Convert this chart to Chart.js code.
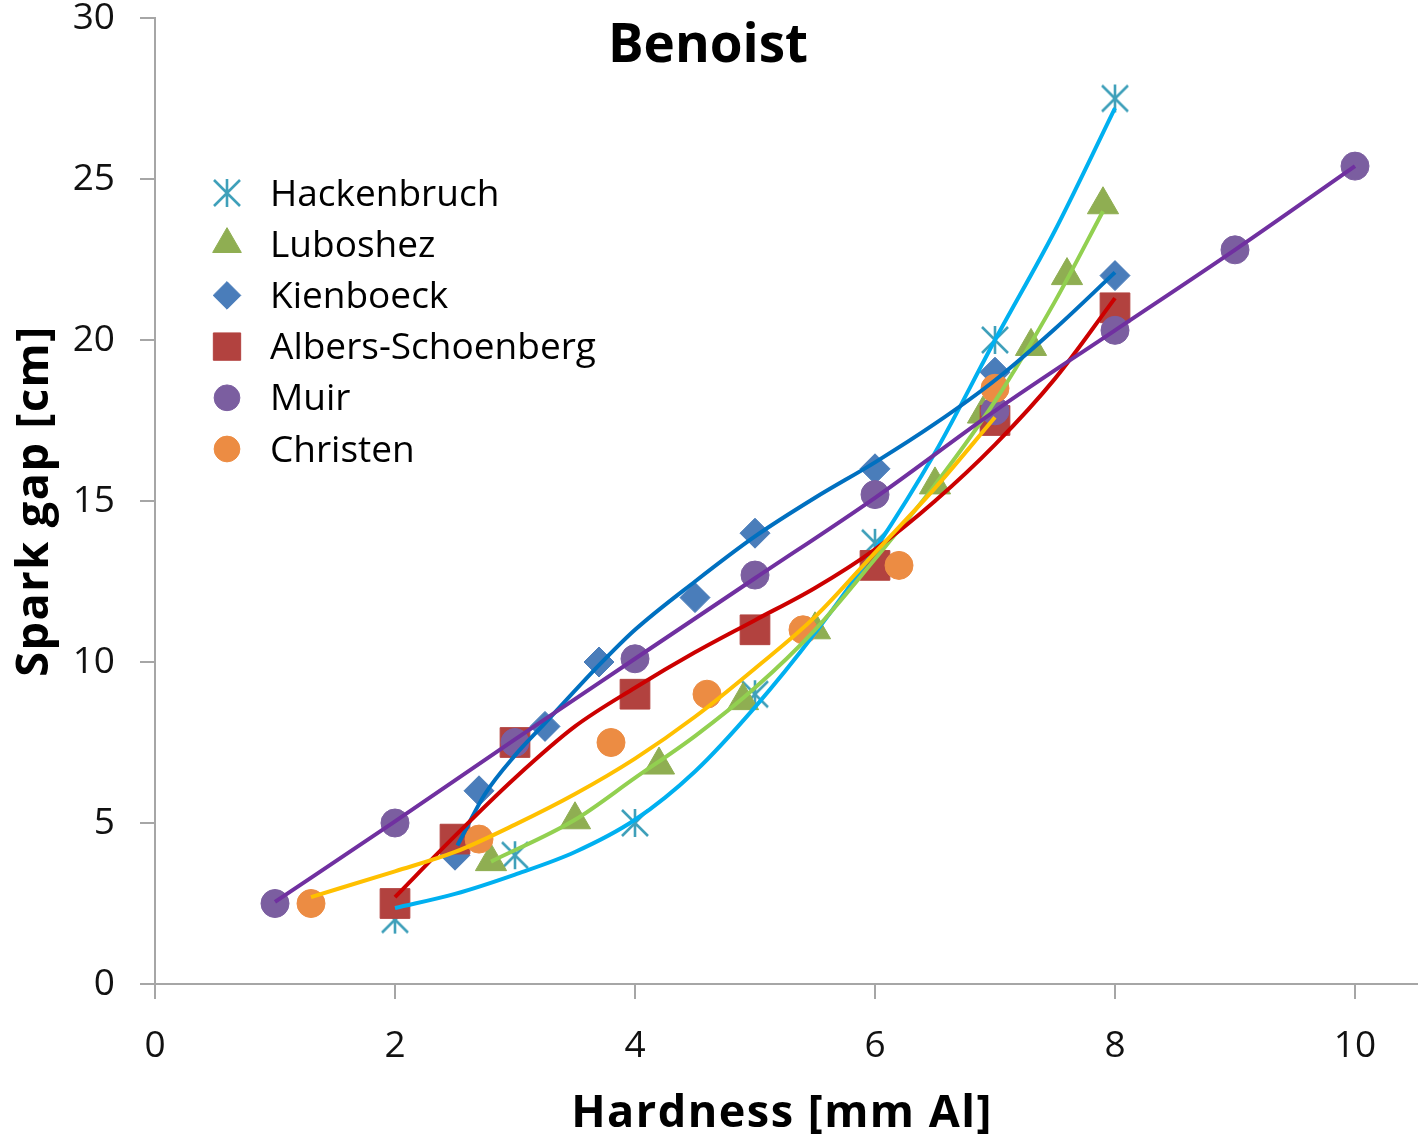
<!DOCTYPE html>
<html lang="en">
<head>
  <meta charset="UTF-8">
  <title>Benoist</title>
  <script src="https://cdn.jsdelivr.net/npm/chart.js"></script>
  <style>
    body { margin: 0; background: #fff; }
    #wrap { width: 1418px; height: 1148px; }
  </style>
</head>
<body>
  <div id="wrap"><canvas id="chart" width="1418" height="1148"></canvas></div>

  <script>
    // axis ticks
    const xTicks = [0, 2, 4, 6, 8, 10];
    const yTicks = [0, 5, 10, 15, 20, 25, 30];

    // measured points
    const hackX = [2, 3, 4, 5, 6, 7, 8];
    const hackY = [2, 4, 5, 9, 13.7, 20, 27.5];
    const lubX = [2.8, 3.5, 4.2, 4.9, 5.5, 6.5, 6.9, 7.3, 7.6, 7.9];
    const lubY = [3.8, 5.1, 6.8, 8.8, 11, 15.5, 17.7, 19.8, 22, 24.2];
    const kienX = [2.5, 2.7, 3.25, 3.7, 4.5, 5, 6, 7, 8];
    const kienY = [4, 6, 8, 10, 12, 14, 16, 19, 22];
    const albX = [2, 2.5, 3, 4, 5, 6, 7, 8];
    const albY = [2.5, 4.5, 7.5, 9, 11, 13, 17.5, 21];
    const muirX = [1, 2, 3, 4, 5, 6, 7, 8, 9, 10];
    const muirY = [2.5, 5, 7.5, 10.1, 12.7, 15.2, 17.8, 20.3, 22.8, 25.4];
    const chrX = [1.3, 2.7, 3.8, 4.6, 5.4, 6.2, 7];
    const chrY = [2.5, 4.5, 7.5, 9, 11, 13, 18.5];

    // trend lines
    const hackFitX = [2, 2.5, 3, 3.5, 4, 4.5, 5, 5.5, 6, 6.5, 7, 7.5, 8];
    const hackFitY = [2.36, 2.8, 3.4, 4.1, 5.1, 6.6, 8.6, 10.9, 13.5, 16.5, 20.0, 23.4, 27.2];
    const lubFitX = [2.8, 3.5, 4, 4.5, 5, 5.5, 6, 6.5, 7, 7.5, 7.9];
    const lubFitY = [3.8, 5.1, 6.4, 7.7, 9.2, 11.0, 13.2, 15.5, 18.1, 21.2, 24.0];
    const kienFitX = [2.52, 2.75, 3, 3.25, 3.7, 4, 4.5, 5, 5.5, 6, 6.5, 7, 7.5, 8];
    const kienFitY = [4.3, 5.9, 7.1, 8.1, 9.9, 11.0, 12.5, 13.9, 15.1, 16.2, 17.4, 18.75, 20.35, 22.1];
    const albFitX = [2, 2.5, 3, 3.5, 4, 4.5, 5, 5.5, 6, 6.5, 7, 7.5, 8];
    const albFitY = [2.7, 4.6, 6.4, 8.0, 9.2, 10.3, 11.3, 12.3, 13.5, 15.0, 16.75, 18.8, 21.3];
    const muirFitX = [1, 2, 3, 4, 5, 6, 7, 8, 9, 10];
    const muirFitY = [2.55, 5.05, 7.6, 10.1, 12.6, 15.1, 17.8, 20.3, 22.8, 25.4];
    const chrFitX = [1.3, 2, 2.5, 3, 3.5, 4, 4.5, 5, 5.5, 6, 6.5, 7];
    const chrFitY = [2.7, 3.5, 4.1, 4.95, 5.9, 7.0, 8.3, 9.8, 11.4, 13.4, 15.4, 17.6];

    const names = ['Hackenbruch', 'Luboshez', 'Kienboeck', 'Albers-Schoenberg', 'Muir', 'Christen'];

    const FONT = "'Open Sans', 'Noto Sans', sans-serif";

    function pts(xs, ys) {
      return xs.map((x, i) => ({ x: x, y: ys[i] }));
    }

    // Excel style asterisk marker
    function asterisk(size, color) {
      const c = document.createElement('canvas');
      c.width = size; c.height = size;
      const g = c.getContext('2d');
      g.strokeStyle = color;
      g.lineWidth = 2.6;
      g.beginPath();
      g.moveTo(size / 2, 1); g.lineTo(size / 2, size - 1);
      g.moveTo(2, 2); g.lineTo(size - 2, size - 2);
      g.moveTo(size - 2, 2); g.lineTo(2, size - 2);
      g.stroke();
      return c;
    }

    const markers = [
      { data: pts(hackX, hackY), style: asterisk(30, '#3fa0ba'), radius: 15, color: '#3fa0ba' },
      { data: pts(lubX, lubY), style: 'triangle', radius: 18, color: '#8fae52' },
      { data: pts(kienX, kienY), style: 'rectRot', radius: 15, color: '#4a7dba' },
      { data: pts(albX, albY), style: 'rect', radius: 21, color: '#b2423f' },
      { data: pts(muirX, muirY), style: 'circle', radius: 14, color: '#7b5ea0' },
      { data: pts(chrX, chrY), style: 'circle', radius: 14, color: '#ec8c43' }
    ];

    const fits = [
      { data: pts(hackFitX, hackFitY), color: '#00b0f0' },
      { data: pts(lubFitX, lubFitY), color: '#92d050' },
      { data: pts(kienFitX, kienFitY), color: '#0070c0' },
      { data: pts(albFitX, albFitY), color: '#cc0000' },
      { data: pts(muirFitX, muirFitY), color: '#7030a0' },
      { data: pts(chrFitX, chrFitY), color: '#ffc000' }
    ];

    const datasets = [];
    markers.forEach((m, i) => {
      datasets.push({
        label: names[i],
        data: m.data,
        showLine: false,
        pointStyle: m.style,
        pointRadius: m.radius,
        pointHoverRadius: m.radius,
        backgroundColor: m.color,
        borderColor: m.color,
        pointBorderWidth: 1,
        order: 20 - i
      });
    });
    fits.forEach((f, i) => {
      datasets.push({
        label: names[i] + ' trend',
        data: f.data,
        showLine: true,
        pointRadius: 0,
        borderColor: f.color,
        borderWidth: 4,
        cubicInterpolationMode: 'monotone',
        fill: false,
        order: 10 - i
      });
    });

    // title, axis titles and legend drawn inside the plot like the original
    const decorations = {
      id: 'decorations',
      afterDraw(chart) {
        const ctx = chart.ctx;
        ctx.save();
        ctx.fillStyle = '#000';
        ctx.textAlign = 'center';
        ctx.textBaseline = 'alphabetic';

        ctx.font = 'bold 53px ' + FONT;
        ctx.fillText('Benoist', 708, 62);

        ctx.font = 'bold 45px ' + FONT;
        ctx.letterSpacing = '1.5px';
        ctx.fillText('Hardness [mm Al]', 782, 1127);

        ctx.save();
        ctx.translate(48, 501);
        ctx.rotate(-Math.PI / 2);
        ctx.fillText('Spark gap [cm]', 0, 0);
        ctx.restore();
        ctx.letterSpacing = '0px';

        ctx.textAlign = 'left';
        ctx.textBaseline = 'middle';
        ctx.font = '37px ' + FONT;
        markers.forEach((m, i) => {
          const y = 193 + i * 51.2;
          ctx.fillStyle = m.color;
          ctx.strokeStyle = m.color;
          ctx.lineWidth = 1;
          Chart.helpers.drawPoint(ctx, { pointStyle: m.style, radius: m.radius * 0.92, borderWidth: 1 }, 227, y);
          ctx.fillStyle = '#000';
          ctx.fillText(names[i], 270, y + 2);
        });
        ctx.restore();
      }
    };

    const axisColor = '#a6a6a6';

    new Chart(document.getElementById('chart'), {
      type: 'scatter',
      data: { datasets: datasets },
      options: {
        responsive: false,
        animation: false,
        layout: { autoPadding: false, padding: { top: 18, right: 0, left: 0, bottom: 0 } },
        plugins: { legend: { display: false }, tooltip: { enabled: false } },
        scales: {
          x: {
            type: 'linear',
            min: 0,
            max: 10.525,
            afterBuildTicks: s => { s.ticks = xTicks.map(v => ({ value: v })); },
            afterFit: s => { s.height = 164; s.paddingLeft = 0; s.paddingRight = 0; },
            border: { color: axisColor, width: 2 },
            grid: { drawOnChartArea: false, drawTicks: true, tickLength: 15, color: axisColor, lineWidth: 2 },
            ticks: { color: '#111', padding: 25, font: { family: FONT, size: 37 } }
          },
          y: {
            type: 'linear',
            min: 0,
            max: 30,
            afterBuildTicks: s => { s.ticks = yTicks.map(v => ({ value: v })); },
            afterFit: s => { s.width = 155; s.paddingTop = 0; s.paddingBottom = 0; },
            border: { color: axisColor, width: 2 },
            grid: { drawOnChartArea: false, drawTicks: true, tickLength: 15, color: axisColor, lineWidth: 2 },
            ticks: { color: '#111', padding: 25, font: { family: FONT, size: 37 } }
          }
        }
      },
      plugins: [decorations]
    });
  </script>
</body>
</html>
